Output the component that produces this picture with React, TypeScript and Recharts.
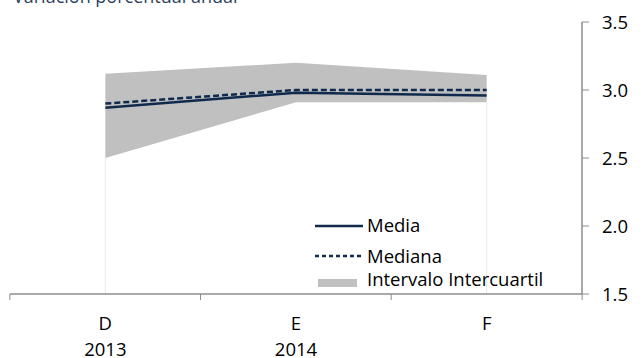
import React from "react"
import {
  ComposedChart,
  Area,
  Line,
  XAxis,
  YAxis,
  ReferenceLine,
} from "recharts"

const categories = ["D", "E", "F"]
const years = ["2013", "2014", ""]
const media = [2.87, 2.98, 2.96]
const mediana = [2.9, 3.0, 3.0]
const q1 = [2.5, 2.91, 2.91]
const q3 = [3.12, 3.2, 3.11]
const yTicks = [1.5, 2.0, 2.5, 3.0, 3.5]

const data = categories.map((c, i) => ({
  name: c,
  year: years[i],
  media: media[i],
  mediana: mediana[i],
  range: [q1[i], q3[i]],
}))

const navy = "#0f2a4c"
const band = "#c0c0c0"
const axisGray = "#8c8c8c"
const font = "'Open Sans', sans-serif"
const fs = 18.5

function CategoryTick(props: any) {
  const { x, y, index, payload } = props
  const step = 191
  const left = x - step / 2
  return (
    <g>
      <line x1={left} y1={y} x2={left} y2={y + 6} stroke={axisGray} />
      {index === categories.length - 1 && (
        <line x1={x + step / 2} y1={y} x2={x + step / 2} y2={y + 6} stroke={axisGray} />
      )}
      <text x={x} y={y + 36} textAnchor="middle" fontSize={fs} fill="#000" fontFamily={font}>
        {payload.value}
      </text>
      <text x={x} y={y + 62} textAnchor="middle" fontSize={fs} fill="#000" fontFamily={font}>
        {years[index]}
      </text>
    </g>
  )
}

// legend box sits at left 300, top 205
function ChartLegend() {
  return (
    <svg width={280} height={90} style={{ fontFamily: font, position: "absolute", left: 300, top: 205 }}>
      <line x1={15} y1={21} x2={63} y2={21} stroke={navy} strokeWidth={2.5} />
      <text x={67} y={27} fontSize={fs} fill="#000">Media</text>
      <line x1={15} y1={51} x2={63} y2={51} stroke={navy} strokeWidth={2.5} strokeDasharray="4 3" />
      <text x={67} y={58} fontSize={fs} fill="#000">Mediana</text>
      <rect x={18} y={74} width={39} height={8} fill={band} />
      <text x={67} y={81} fontSize={fs} fill="#000">Intervalo Intercuartil</text>
    </svg>
  )
}

export default function App() {
  return (
    <div style={{ position: "absolute", left: 0, top: 0, width: 644, height: 358, background: "#fff", overflow: "hidden" }}>
      <div
        style={{
          position: "absolute",
          left: 13,
          top: -16,
          fontFamily: font,
          fontSize: 18,
          color: "#2e3f5c",
          whiteSpace: "nowrap",
        }}
      >
        Variación porcentual anual
      </div>
      <ComposedChart
        width={644}
        height={358}
        data={data}
        margin={{ top: 22, right: 0, bottom: 0, left: 10 }}
      >
        <XAxis
          dataKey="name"
          scale="band"
          height={64}
          tickSize={0}
          tickMargin={0}
          tickLine={false}
          axisLine={{ stroke: axisGray, strokeWidth: 1.5 }}
          tick={<CategoryTick />}
          interval={0}
        />
        <YAxis
          orientation="right"
          width={62}
          domain={[1.5, 3.5]}
          ticks={yTicks}
          tickFormatter={(v: number) => v.toFixed(1)}
          axisLine={{ stroke: axisGray, strokeWidth: 1.5 }}
          tickLine={{ stroke: axisGray }}
          tickSize={7}
          tickMargin={13}
          tick={{ fill: "#000", fontSize: fs, fontFamily: font }}
        />
        <ReferenceLine
          segment={[
            { x: categories[0], y: yTicks[0] },
            { x: categories[0], y: q1[0] },
          ]}
          stroke="#e8e8e8"
        />
        <ReferenceLine
          segment={[
            { x: categories[2], y: yTicks[0] },
            { x: categories[2], y: q1[2] },
          ]}
          stroke="#e8e8e8"
        />
        <Area
          dataKey="range"
          fill={band}
          fillOpacity={1}
          stroke="none"
          isAnimationActive={false}
        />
        <Line
          dataKey="media"
          stroke={navy}
          strokeWidth={2.5}
          dot={false}
          isAnimationActive={false}
        />
        <Line
          dataKey="mediana"
          stroke={navy}
          strokeWidth={2.5}
          strokeDasharray="6 3"
          dot={false}
          isAnimationActive={false}
        />
      </ComposedChart>
      <ChartLegend />
    </div>
  )
}
